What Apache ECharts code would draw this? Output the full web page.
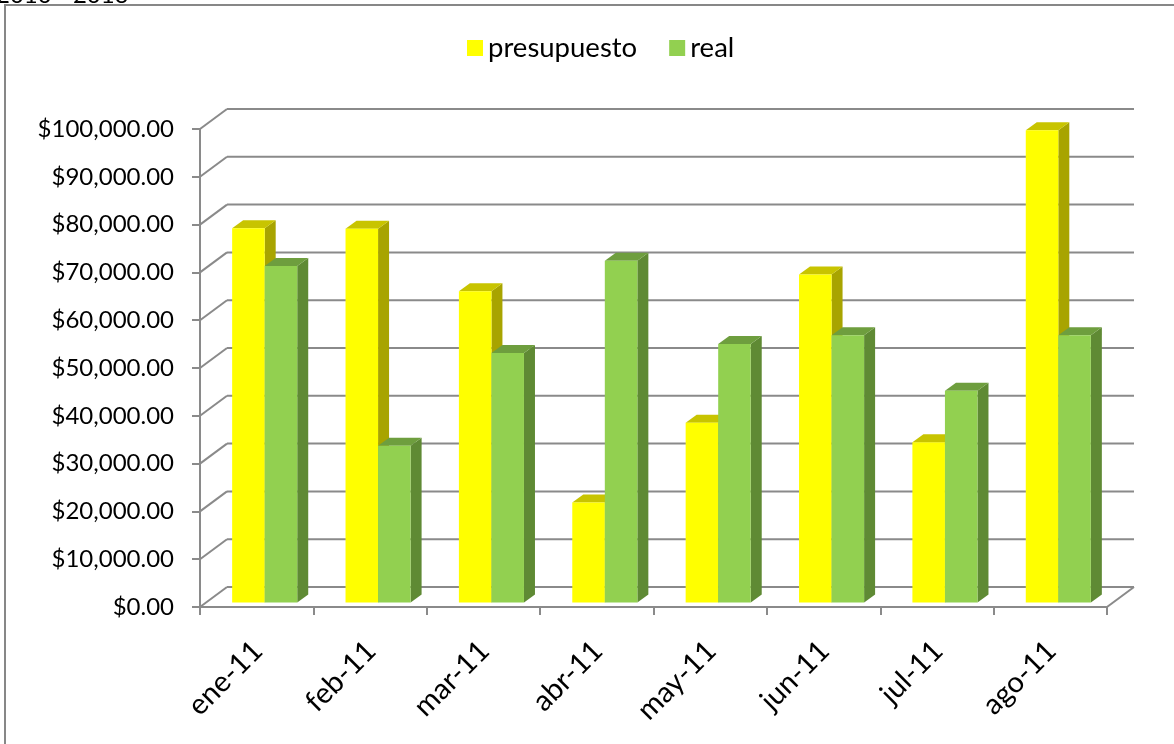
<!DOCTYPE html>
<html><head><meta charset="utf-8">
<script src="https://cdn.jsdelivr.net/npm/echarts@6/dist/echarts.min.js"></script>
<style>html,body{margin:0;padding:0;background:#fff}#c{width:1174px;height:744px}</style>
</head><body><div id="c"></div>
<script>
// ---- data ----
const categories = ['ene-11','feb-11','mar-11','abr-11','may-11','jun-11','jul-11','ago-11'];
const presupuesto = [78300, 78200, 65100, 20900, 37600, 68600, 33500, 98800];
const real = [70400, 32800, 52200, 71500, 54100, 55900, 44300, 55900];
const yTicks = [0, 10000, 20000, 30000, 40000, 50000, 60000, 70000, 80000, 90000, 100000];
const seriesNames = ['presupuesto', 'real'];
const subtitle = '2010 - 2013';

// ---- styling ----
const FONT = 'Lato';
const FS_Y = 24;
const FS_LEGEND = 27.5;
const FS_X = 29;
const GRID_COLOR = '#8a8a8a';
const DEPTH = [27, -20];
const BAR_SHIFT = [8, -4.5];
const BAR_DEPTH = [11, -8];
const LBL_OFF = [1, 39];
const faces = [
  {front: '#FFFF00', top: '#C8C400', side: '#A8A400'},
  {front: '#92D050', top: '#6E9E3E', side: '#5F8A34'}
];

function fmt(v) { return '$' + v.toFixed(2).replace(/\B(?=(\d{3})+(?!\d))/g, ','); }

function barRender(si) {
  return function (params, api) {
    const i = api.value(0), v = api.value(1);
    const cw = api.size([1, 0])[0];
    const bw = cw * 0.287;
    const c = api.coord([i, v]);
    const b = api.coord([i, 0]);
    const x0 = c[0] + BAR_SHIFT[0] + (si === 0 ? -bw : 0);
    const x1 = x0 + bw;
    const yT = c[1] + BAR_SHIFT[1], yB = b[1] + BAR_SHIFT[1];
    const dx = BAR_DEPTH[0], dy = BAR_DEPTH[1];
    const f = faces[si];
    return {type: 'group', children: [
      {type: 'polygon', shape: {points: [[x1, yB], [x1 + dx, yB + dy], [x1 + dx, yT + dy], [x1, yT]]}, style: {fill: f.side}},
      {type: 'polygon', shape: {points: [[x0, yT], [x1, yT], [x1 + dx, yT + dy], [x0 + dx, yT + dy]]}, style: {fill: f.top}},
      {type: 'rect', shape: {x: x0, y: yT, width: bw, height: yB - yT}, style: {fill: f.front}}
    ]};
  };
}

function wallRender(params, api) {
  const cs = params.coordSys;
  const v = api.value(1);
  const y = api.coord([0, v])[1];
  const xl = cs.x, xr = cs.x + cs.width;
  const dx = DEPTH[0], dy = DEPTH[1];
  const st = {stroke: GRID_COLOR, lineWidth: 2, fill: null};
  const ch = [
    {type: 'line', shape: {x1: xl, y1: y, x2: xl + dx, y2: y + dy}, style: st},
    {type: 'line', shape: {x1: xl + dx, y1: y + dy, x2: xr + dx, y2: y + dy}, style: st}
  ];
  if (v === 0) ch.push({type: 'line', shape: {x1: xr, y1: y, x2: xr + dx, y2: y + dy}, style: st});
  return {type: 'group', children: ch};
}

function labelRender(params, api) {
  const i = api.value(0);
  const p = api.coord([i, 0]);
  return {type: 'text', x: p[0] + LBL_OFF[0], y: p[1] + LBL_OFF[1], rotation: Math.PI / 4,
    style: {text: categories[i], font: FS_X + 'px ' + FONT, fill: '#000', align: 'right', verticalAlign: 'middle'}};
}

const chart = echarts.init(document.getElementById('c'), null, {renderer: 'canvas'});
chart.setOption({
  animation: false,
  backgroundColor: '#fff',
  color: [faces[0].front, faces[1].front],
  textStyle: {fontFamily: FONT},
  graphic: [
    {type: 'rect', shape: {x: 5, y: 5, width: 1400, height: 900}, style: {fill: null, stroke: '#878787', lineWidth: 2}, z: 100},
    {type: 'text', x: -4, y: -17, style: {text: subtitle, font: '24px ' + FONT, fill: '#000'}, z: 100}
  ],
  legend: {
    data: seriesNames, left: 462, top: 29, icon: 'rect', itemWidth: 16, itemHeight: 16, itemGap: 32,
    textStyle: {fontSize: FS_LEGEND, fontFamily: FONT, color: '#000'}
  },
  grid: {left: 200, top: 129, width: 907, height: 478, containLabel: false},
  xAxis: {
    type: 'category', data: categories, boundaryGap: true,
    axisLine: {show: true, lineStyle: {color: GRID_COLOR, width: 2}},
    axisTick: {show: true, length: 8, alignWithLabel: false, interval: 0, lineStyle: {color: GRID_COLOR, width: 2}},
    axisLabel: {show: false}, splitLine: {show: false}
  },
  yAxis: {
    type: 'value', min: 0, max: 100000, interval: 10000,
    axisLine: {show: true, lineStyle: {color: GRID_COLOR, width: 2}},
    axisTick: {show: true, length: 8, lineStyle: {color: GRID_COLOR, width: 2}},
    axisLabel: {formatter: fmt, fontSize: FS_Y, fontFamily: FONT, color: '#000', margin: 26},
    splitLine: {show: false}
  },
  series: [
    {type: 'custom', name: 'wall', clip: false, silent: true, z: 1,
     data: yTicks.map(v => [0, v]), encode: {x: 0, y: 1}, renderItem: wallRender},
    {type: 'custom', name: seriesNames[0], clip: false, z: 2, itemStyle: {color: faces[0].front},
     data: presupuesto.map((v, i) => [i, v]), encode: {x: 0, y: 1}, renderItem: barRender(0)},
    {type: 'custom', name: seriesNames[1], clip: false, z: 3, itemStyle: {color: faces[1].front},
     data: real.map((v, i) => [i, v]), encode: {x: 0, y: 1}, renderItem: barRender(1)},
    {type: 'custom', name: 'labels', clip: false, silent: true, z: 4,
     data: categories.map((c, i) => [i, 0]), encode: {x: 0, y: 1}, renderItem: labelRender}
  ]
});
</script></body></html>
